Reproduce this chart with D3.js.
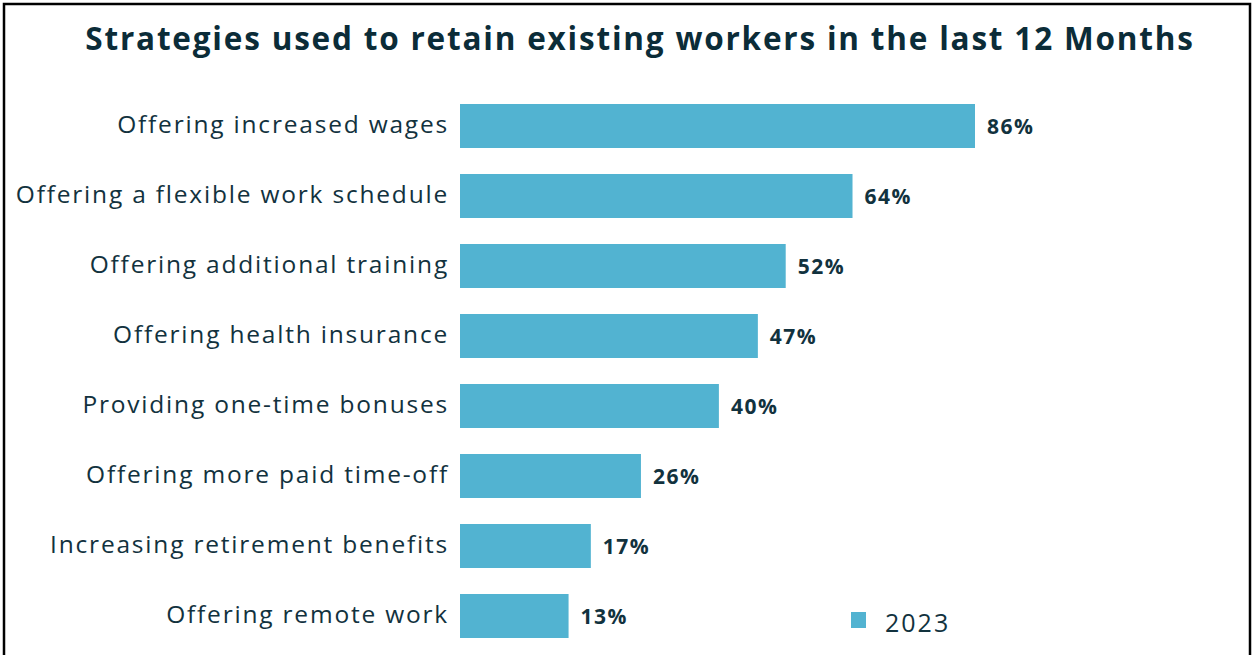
<!DOCTYPE html>
<html>
<head>
<meta charset="utf-8">
<script src="https://cdn.jsdelivr.net/npm/d3@7"></script>
<style>
html,body{margin:0;padding:0;background:#fff;}
svg{display:block;}
</style>
</head>
<body>
<svg id="chart" width="1254" height="655"></svg>
<script>
const categories = [
  "Offering increased wages",
  "Offering a flexible work schedule",
  "Offering additional training",
  "Offering health insurance",
  "Providing one-time bonuses",
  "Offering more paid time-off",
  "Increasing retirement benefits",
  "Offering remote work"
];
const values2023 = [86, 64, 52, 47, 40, 26, 17, 13];
const seriesName = "2023";
const titleText = "Strategies used to retain existing workers in the last 12 Months";

const svg = d3.select("#chart");
const W = 1254, H = 655;
const barColor = "#52b3d1";
const textColor = "#12323e";
const font = "'Open Sans', sans-serif";

// frame
svg.append("rect").attr("x", 4).attr("y", 4).attr("width", W - 8).attr("height", H + 10)
  .attr("fill", "none").attr("stroke", "#000").attr("stroke-width", 2.5);

// title
svg.append("text").attr("x", 640).attr("y", 50).attr("text-anchor", "middle")
  .attr("font-family", font).attr("font-weight", 700).attr("font-size", 31.5)
  .attr("letter-spacing", 1.8)
  .attr("fill", "#0b2c38").text(titleText);

const x0 = 460;
const x = d3.scaleLinear().domain([-6.5, 86]).range([x0, 975]);
const y = d3.scaleBand().domain(categories).range([91, 651]).paddingInner(0.3714).paddingOuter(0.1857);

const data = categories.map((c, i) => ({c, v: values2023[i]}));

svg.append("g").selectAll("rect").data(data).join("rect")
  .attr("x", x0).attr("y", d => y(d.c))
  .attr("width", d => x(d.v) - x0).attr("height", y.bandwidth())
  .attr("fill", barColor);

svg.append("g").selectAll("text").data(data).join("text")
  .attr("x", 449).attr("y", d => y(d.c) + y.bandwidth() / 2 - 3)
  .attr("text-anchor", "end").attr("dominant-baseline", "central")
  .attr("font-family", font).attr("font-size", 24.5).attr("letter-spacing", 1.8)
  .attr("fill", textColor)
  .text(d => d.c);

svg.append("g").selectAll("text").data(data).join("text")
  .attr("x", d => x(d.v) + 12).attr("y", d => y(d.c) + y.bandwidth() / 2)
  .attr("dominant-baseline", "central")
  .attr("font-family", font).attr("font-weight", 700).attr("font-size", 21)
  .attr("letter-spacing", 1.5).attr("fill", textColor)
  .text(d => d.v + "%");

// legend
const lg = svg.append("g").attr("transform", "translate(851,612)");
lg.append("rect").attr("width", 15).attr("height", 16).attr("fill", barColor);
lg.append("text").attr("x", 34).attr("y", 10).attr("dominant-baseline", "central")
  .attr("font-family", font).attr("font-size", 25).attr("letter-spacing", 2)
  .attr("fill", textColor).text(seriesName);
</script>
</body>
</html>
